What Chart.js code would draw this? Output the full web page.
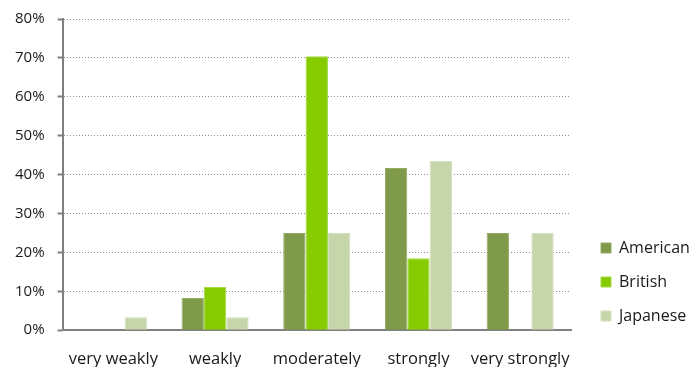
<!DOCTYPE html>
<html>
<head>
<meta charset="utf-8">
<script src="https://cdn.jsdelivr.net/npm/chart.js@4/dist/chart.umd.min.js"></script>
<style>
  html, body { margin: 0; padding: 0; overflow: hidden; background: #fff; }
  #wrap { width: 692px; height: 380px; position: relative; }
</style>
</head>
<body>
<div id="wrap"><canvas id="barChart"></canvas></div>
<script>
var categories = ['very weakly', 'weakly', 'moderately', 'strongly', 'very strongly']
var american = [0, 8.3, 25, 41.7, 25]
var british = [0, 11.1, 70.4, 18.5, 0]
var japanese = [3.3, 3.3, 25, 43.5, 25]
var yTicks = [0, 10, 20, 30, 40, 50, 60, 70, 80]

var fontFamily = '"Open Sans", "DejaVu Sans", sans-serif'

// keep the legend in a fixed column on the right, a bit lower than centre
var legendPlace = {
    id: 'legendPlace',
    beforeInit: function (chart) {
        var legend = chart.legend
        var fit = legend.fit
        legend.fit = function () {
            fit.call(this)
            this.width = 121
        }
    },
    afterLayout: function (chart) {
        chart.legend.left += 12
        chart.legend.top = 222
    }
}

var barCanvas = document.getElementById('barChart').getContext('2d')
new Chart(barCanvas, {
    type: 'bar',
    data: {
        labels: categories,
        datasets: [
            { label: 'American', data: american, backgroundColor: '#7f9a48', borderColor: '#93ab66' },
            { label: 'British', data: british, backgroundColor: '#86cc00', borderColor: '#a3da45' },
            { label: 'Japanese', data: japanese, backgroundColor: '#c6d6aa', borderColor: '#d3dfbf' }
        ]
    },
    options: {
        responsive: true,
        maintainAspectRatio: false,
        animation: false,
        layout: { padding: { left: 2, right: 0, top: 0, bottom: 0 } },
        datasets: {
            bar: { barPercentage: 1, categoryPercentage: 0.66, borderWidth: 1, borderSkipped: 'bottom' }
        },
        plugins: {
            tooltip: { enabled: false },
            legend: {
                position: 'right',
                align: 'start',
                labels: {
                    boxWidth: 10,
                    boxHeight: 10,
                    padding: 18,
                    color: '#1a1a1a',
                    font: { family: fontFamily, size: 16 }
                }
            }
        },
        scales: {
            x: {
                grid: { display: false },
                border: { display: true, color: '#808080', width: 2 },
                ticks: {
                    color: '#1a1a1a',
                    padding: 11,
                    maxRotation: 0,
                    autoSkip: false,
                    font: { family: fontFamily, size: 16.5 }
                }
            },
            y: {
                min: 0,
                max: 80,
                afterBuildTicks: function (axis) {
                    axis.ticks = yTicks.map(function (v) { return { value: v } })
                },
                grid: {
                    color: '#8c8c8c',
                    lineWidth: 1,
                    tickLength: 5,
                    tickColor: '#808080',
                    tickWidth: 2
                },
                border: { display: true, color: '#808080', width: 2, dash: [1, 2] },
                ticks: {
                    color: '#1a1a1a',
                    padding: 13,
                    font: { family: fontFamily, size: 15, lineHeight: 0.8 },
                    callback: function (value) { return value + '%' }
                }
            }
        }
    },
    plugins: [legendPlace]
})
</script>
</body>
</html>
